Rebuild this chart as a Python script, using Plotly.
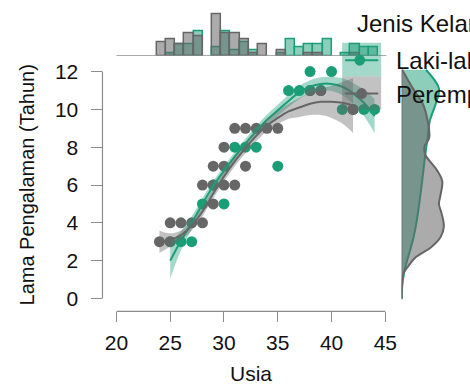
import plotly.graph_objects as go

W, H = 470, 385

# ---------------- data ----------------
# scatter points (unique positions) per group
male_age = [25, 26, 27, 28, 29, 30, 31, 32, 33, 35, 36, 37, 38, 39, 38, 40, 41, 42, 43, 44]
male_exp = [3, 3, 3, 5, 6, 5, 8, 8, 8, 7, 11, 11, 12, 11, 11, 12, 10, 10, 10, 10]
female_age = [24, 25, 25, 26, 27, 28, 29, 28, 29, 30, 31, 29, 30, 32, 30, 31, 32, 33, 34, 35, 38, 39, 42]
female_exp = [3, 3, 4, 4, 4, 4, 5, 6, 6, 6, 6, 7, 7, 7, 8, 9, 9, 9, 9, 9, 11, 11, 10]

# marginal histogram counts by age
hist_ages = list(range(24, 45))
hist_male = [0, 1, 4, 4, 9, 3, 9, 2, 5, 2, 0, 1, 6, 3, 4, 4, 6, 1, 4, 3, 3]
hist_female = [5, 6, 4, 8, 7, 15, 8, 8, 6, 1, 4, 2, 0, 0, 1, 1, 0, 0, 1, 0, 0]

# smooth fits with confidence band half-widths
fit_age_m = list(range(25, 45))
fit_m = [2.0, 3.05, 4.0, 5.0, 5.95, 6.75, 7.5, 8.2, 8.85, 9.45, 9.95, 10.45, 10.9, 11.2, 11.35, 11.35, 11.2, 10.85, 10.35, 9.65]
band_m = [0.95, 0.5, 0.35, 0.3, 0.28, 0.25, 0.25, 0.25, 0.27, 0.28, 0.3, 0.32, 0.35, 0.35, 0.35, 0.38, 0.45, 0.55, 0.7, 0.9]
fit_age_f = list(range(24, 43))
fit_f = [3.0, 3.1, 3.35, 3.85, 4.6, 5.55, 6.45, 7.25, 7.95, 8.6, 9.15, 9.55, 9.9, 10.1, 10.3, 10.4, 10.4, 10.35, 10.2]
band_f = [0.6, 0.35, 0.25, 0.25, 0.25, 0.25, 0.25, 0.25, 0.25, 0.28, 0.3, 0.35, 0.4, 0.5, 0.6, 0.7, 0.85, 1.1, 1.45]

# marginal densities of experience
dens_y = [0.0, 0.6, 1.3, 1.7, 2.2, 2.7, 3.25, 3.8, 4.5, 5.0, 5.5, 6.2, 6.75, 7.3, 7.6, 8.0, 8.5, 9.4, 10.3, 11.1, 12.1]
dens_m = [0.0015, 0.0025, 0.0115, 0.02, 0.0335, 0.0475, 0.0615, 0.0725, 0.0835, 0.09, 0.0965, 0.105, 0.1115,
          0.1175, 0.1215, 0.1265, 0.1335, 0.145, 0.175, 0.1915, 0.125]
dens_f = [0.0, 0.0015, 0.0085, 0.0335, 0.075, 0.15, 0.2, 0.2165, 0.205, 0.1915, 0.2, 0.2085, 0.1835,
          0.1415, 0.1215, 0.1165, 0.1415, 0.1335, 0.1085, 0.0585, 0.0025]

x_ticks = [20, 25, 30, 35, 40, 45]
y_ticks = [0, 2, 4, 6, 8, 10, 12]
groups = ["Laki-laki", "Perempuan"]
legend_title = "Jenis Kelamin"

GREEN = "#1b9e77"
GRAY = "#666666"
FONT = "Liberation Sans, Arial, sans-serif"


def px(x):
    return x / W


def py(y):
    return 1 - y / H


fig = go.Figure()

# top histograms
for counts, fill, edge in [(hist_male, "rgba(27,158,119,0.5)", GREEN),
                           (hist_female, "rgba(102,102,102,0.55)", GRAY)]:
    fig.add_trace(go.Histogram(
        x=hist_ages, y=counts, histfunc="sum",
        xbins=dict(start=23.75, end=44.6, size=6 / 7),
        xaxis="x2", yaxis="y2",
        marker=dict(color=fill, line=dict(color=edge, width=1.5)),
        showlegend=False, hoverinfo="skip"))

# scatter points
fig.add_trace(go.Scatter(x=male_age, y=male_exp, mode="markers", cliponaxis=False,
                         marker=dict(color=GREEN, size=11), showlegend=False))
fig.add_trace(go.Scatter(x=female_age, y=female_exp, mode="markers", cliponaxis=False,
                         marker=dict(color=GRAY, size=11), showlegend=False))

# fits with bands
for ages, fit, band, col, fillc in [(fit_age_m, fit_m, band_m, GREEN, "rgba(27,158,119,0.4)"),
                                     (fit_age_f, fit_f, band_f, GRAY, "rgba(102,102,102,0.4)")]:
    up = [f + b for f, b in zip(fit, band)]
    lo = [f - b for f, b in zip(fit, band)]
    fig.add_trace(go.Scatter(x=ages, y=up, mode="lines", line=dict(width=0, shape="spline"),
                             showlegend=False, hoverinfo="skip"))
    fig.add_trace(go.Scatter(x=ages, y=lo, mode="lines", line=dict(width=0, shape="spline"),
                             fill="tonexty", fillcolor=fillc, showlegend=False, hoverinfo="skip"))
    fig.add_trace(go.Scatter(x=ages, y=fit, mode="lines", line=dict(color=col, width=2, shape="spline"),
                             showlegend=False))

# right densities
for dens, col, fillc in [(dens_m, GREEN, "rgba(27,158,119,0.5)"),
                         (dens_f, GRAY, "rgba(102,102,102,0.55)")]:
    fig.add_trace(go.Scatter(x=dens, y=dens_y, xaxis="x3", yaxis="y", mode="lines",
                             line=dict(color=col, width=2, shape="spline"),
                             fill="tozerox", fillcolor=fillc, showlegend=False, hoverinfo="skip"))

shapes = [
    # axis lines spanning only the ticks
    dict(type="line", xref="paper", yref="y", x0=px(99), x1=px(99), y0=0, y1=12,
         line=dict(color="#8c8c8c", width=1.2)),
    dict(type="line", xref="x", yref="paper", x0=20, x1=45, y0=py(313), y1=py(313),
         line=dict(color="#8c8c8c", width=1.2)),
    # histogram baseline
    dict(type="line", xref="x", yref="y2", x0=20, x1=45.1, y0=0, y1=0,
         line=dict(color="#8c8c8c", width=1.5)),
    # density baseline
    dict(type="line", xref="x3", yref="y", x0=0, x1=0, y0=-0.05, y1=12.1,
         line=dict(color="#6f6f6f", width=1.5)),
    # legend keys
    dict(type="rect", xref="paper", yref="paper", x0=px(345), x1=px(385), y0=py(43), y1=py(77),
         fillcolor="rgba(27,158,119,0.4)", line=dict(width=0), layer="above"),
    dict(type="rect", xref="paper", yref="paper", x0=px(345), x1=px(385), y0=py(77), y1=py(110),
         fillcolor="rgba(102,102,102,0.4)", line=dict(width=0), layer="above"),
    dict(type="line", xref="paper", yref="paper", x0=px(348), x1=px(382), y0=py(60.5), y1=py(60.5),
         line=dict(color=GREEN, width=2), layer="above"),
    dict(type="line", xref="paper", yref="paper", x0=px(348), x1=px(382), y0=py(94), y1=py(94),
         line=dict(color=GRAY, width=2), layer="above"),
    dict(type="circle", xref="paper", yref="paper", x0=px(357.5), x1=px(368.5), y0=py(55), y1=py(66),
         fillcolor=GREEN, line=dict(width=0), layer="above"),
    dict(type="circle", xref="paper", yref="paper", x0=px(359.5), x1=px(370.5), y0=py(88.5), y1=py(99.5),
         fillcolor=GRAY, line=dict(width=0), layer="above"),
]

annotations = [
    dict(text="Usia", x=px(251), y=py(375), xref="paper", yref="paper", showarrow=False,
         xanchor="center", yanchor="middle", font=dict(size=21, color="#111")),
    dict(text="Lama Pengalaman (Tahun)", x=px(22), y=py(186), xref="paper", yref="paper",
         showarrow=False, textangle=-90, xanchor="center", yanchor="middle",
         font=dict(size=20, color="#111")),
    dict(text=legend_title, x=px(358), y=py(24), xref="paper", yref="paper", showarrow=False,
         xanchor="left", yanchor="middle", font=dict(size=24, color="#111")),
    dict(text=groups[0], x=px(398), y=py(61), xref="paper", yref="paper", showarrow=False,
         xanchor="left", yanchor="middle", font=dict(size=24, color="#111")),
    dict(text=groups[1], x=px(398), y=py(95), xref="paper", yref="paper", showarrow=False,
         xanchor="left", yanchor="middle", font=dict(size=24, color="#111")),
]

x_dom = [px(107.8), px(394.8)]
fig.update_layout(
    width=W, height=H, margin=dict(l=0, r=0, t=0, b=0),
    paper_bgcolor="white", plot_bgcolor="rgba(0,0,0,0)",
    font=dict(family=FONT, size=20, color="#111"),
    barmode="overlay", bargap=0, showlegend=False,
    xaxis=dict(domain=x_dom, range=[19.5, 45.5], tickvals=x_ticks, ticks="outside", ticklen=10,
               tickcolor="#8c8c8c", tickwidth=1.2, showline=False, showgrid=False, zeroline=False,
               anchor="free", position=py(313), ticklabelstandoff=2,
               tickfont=dict(size=21, color="#111")),
    yaxis=dict(domain=[py(309.5), py(56.8)], range=[-0.5, 12.8], tickvals=y_ticks, ticks="outside",
               ticklen=11, tickcolor="#8c8c8c", tickwidth=1.2, showline=False, showgrid=False,
               zeroline=False, anchor="free", position=px(99), ticklabelstandoff=9,
               tickfont=dict(size=21, color="#111")),
    xaxis2=dict(domain=x_dom, matches="x", visible=False, anchor="y2"),
    yaxis2=dict(domain=[py(56), py(11.2)], range=[0, 16], visible=False, anchor="x2"),
    xaxis3=dict(domain=[px(406), px(456)], range=[0, 0.25], visible=False, anchor="y"),
    shapes=shapes, annotations=annotations,
)

fig.write_html("out.html", config={"displayModeBar": False},
               post_script="document.body.style.margin='0px';")
